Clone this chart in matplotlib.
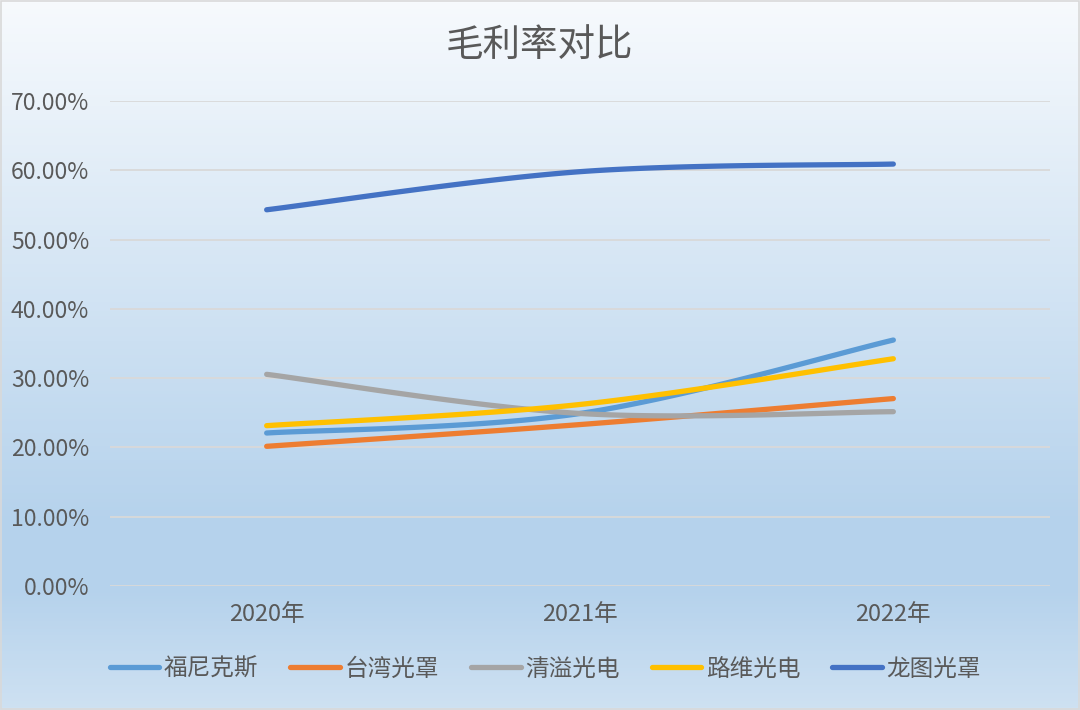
import numpy as np
import matplotlib
matplotlib.use('Agg')
import matplotlib.pyplot as plt
from matplotlib.colors import LinearSegmentedColormap
from matplotlib.patches import Rectangle

plt.rcParams['font.family'] = ['Noto Sans CJK SC', 'DejaVu Sans']

# ---------------- data ----------------
title = '毛利率对比'
years = ['2020年', '2021年', '2022年']
series_names = ['福尼克斯', '台湾光罩', '清溢光电', '路维光电', '龙图光罩']
funikesi = [0.2208, 0.2490, 0.3550]
taiwan_guangzhao = [0.2016, 0.2330, 0.2705]
qingyi_guangdian = [0.3055, 0.2490, 0.2516]
luwei_guangdian = [0.2314, 0.2620, 0.3280]
longtu_guangzhao = [0.5430, 0.5980, 0.6090]
series_values = [funikesi, taiwan_guangzhao, qingyi_guangdian, luwei_guangdian, longtu_guangzhao]
colors = ['#5B9BD5', '#ED7D31', '#A5A5A5', '#FFC000', '#4472C4']
yticks = [0.0, 0.1, 0.2, 0.3, 0.4, 0.5, 0.6, 0.7]
ytick_labels = ['0.00%', '10.00%', '20.00%', '30.00%', '40.00%', '50.00%', '60.00%', '70.00%']

TEXT = '#595959'
W, H = 1080, 710


def smooth(xs, ys, n=60):
    """Excel-like smoothed line (cubic Bezier / Catmull-Rom)."""
    P = np.column_stack([xs, ys]).astype(float)
    out = []
    for i in range(len(P) - 1):
        p0 = P[max(i - 1, 0)]
        p1 = P[i]
        p2 = P[i + 1]
        p3 = P[min(i + 2, len(P) - 1)]
        c1 = p1 + (p2 - p0) / 6.0
        c2 = p2 - (p3 - p1) / 6.0
        t = np.linspace(0, 1, n)[:, None]
        seg = ((1 - t) ** 3) * p1 + 3 * ((1 - t) ** 2) * t * c1 + 3 * (1 - t) * (t ** 2) * c2 + (t ** 3) * p2
        out.append(seg if i == 0 else seg[1:])
    return np.vstack(out)


fig = plt.figure(figsize=(W / 100, H / 100), dpi=100)

# gradient background
bg = fig.add_axes([0, 0, 1, 1], zorder=-2)
cmap = LinearSegmentedColormap.from_list(
    'g', [(0.0, '#F7FAFD'), (0.74, '#B5D2EC'), (0.83, '#B5D2EC'), (1.0, '#CEE1F2')])
grad = np.linspace(0, 1, 710)[:, None]
bg.imshow(grad, aspect='auto', cmap=cmap, extent=[0, 1, 0, 1], origin='upper')
bg.set_xlim(0, 1)
bg.set_ylim(0, 1)
bg.axis('off')
bg.add_patch(Rectangle((0.001, 0.001), 0.998, 0.997, fill=False,
                       edgecolor='#D9D9D9', lw=1.2, transform=bg.transAxes))

ax = fig.add_axes([110 / W, 1 - 586 / H, 940 / W, 485 / H], zorder=1)
ax.patch.set_alpha(0)
x = np.arange(len(years))
for name, vals, c in zip(series_names, series_values, colors):
    pts = smooth(x, vals)
    ax.plot(pts[:, 0], pts[:, 1], color=c, lw=3.8, solid_capstyle='round', label=name)

ax.set_xlim(-0.5, len(years) - 0.5)
ax.set_ylim(0, 0.7)
ax.set_yticks(yticks)
ax.set_yticklabels(ytick_labels)
ax.set_xticks(x)
ax.set_xticklabels(years)
ax.yaxis.grid(True, color='#D9D9D9', lw=1.3)
ax.set_axisbelow(True)
for s in ax.spines.values():
    s.set_visible(False)
ax.tick_params(axis='y', length=0, pad=15, labelsize=16.5, labelcolor=TEXT)
ax.tick_params(axis='x', length=0, pad=12, labelsize=17, labelcolor=TEXT)

fig.text(0.5, 1 - 45 / H, title, ha='center', va='center', fontsize=27, color=TEXT)

leg = fig.legend(*ax.get_legend_handles_labels(), loc='center', bbox_to_anchor=(0.505, 1 - 669 / H),
                 ncol=5, frameon=False, fontsize=17, handlelength=2.1, handletextpad=0.2,
                 columnspacing=1.35, labelcolor=TEXT)

fig.savefig('out.png', dpi=100)
